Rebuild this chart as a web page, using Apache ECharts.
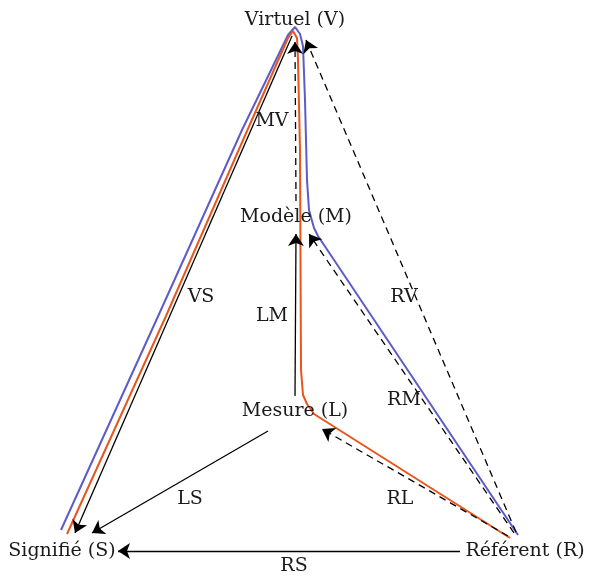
<!DOCTYPE html>
<html><head><meta charset="utf-8">
<script src="https://cdn.jsdelivr.net/npm/echarts@6/dist/echarts.min.js"></script>
<style>html,body{margin:0;padding:0;background:#fff}#c{width:589px;height:579px}</style>
</head><body><div id="c"></div>
<script>
// Node labels (name, x, y in diagram units)
const nodeNames = ['Virtuel (V)', 'Modèle (M)', 'Mesure (L)', 'Signifié (S)', 'Référent (R)'];
const nodeX = [295, 296, 295, 62, 525];
const nodeY = [20, 217, 411, 551, 551];

// Arrows: label, from, to, dashed
const edgeNames = ['VS', 'MV', 'LM', 'RM', 'RV', 'RL', 'LS', 'RS'];
const edgeFrom = [[292,36],[296,201],[295,396],[514,533],[516,532],[508,536],[268,431],[460,551]];
const edgeTo   = [[75,533],[295,42],[296,234],[309,234],[306,40],[322,429],[92,533],[118,551]];
const edgeDashed = [false, true, false, true, true, true, false, false];
const edgeLabelPos = [[201,297],[272,121],[272,316],[404,400],[404,297],[400,499],[190,499],[294,566]];

// Coloured paths
const bluePath = [[61,530],[160,312],[242,130],[288,35],[295,27],[300,34],[303,46],[305,100],[307,180],[309,210],[314,228],[318,236],[518,535]];
const orangePath = [[67,534],[166,316],[247,131],[288,38],[293,31],[297,38],[298,60],[300,150],[301,370],[303,395],[307,404],[314,414],[510,538]];

const chart = echarts.init(document.getElementById('c'));
const font = 'DejaVu Serif';
const series = [];

series.push({
  type: 'line', data: bluePath, showSymbol: false, symbol: 'none',
  lineStyle: {color: '#5c5cc8', width: 2}, z: 2, animation: false
});
series.push({
  type: 'line', data: orangePath, showSymbol: false, symbol: 'none',
  lineStyle: {color: '#e8561c', width: 2}, z: 3, animation: false
});

series.push({
  type: 'lines', coordinateSystem: 'cartesian2d', z: 4, animation: false,
  symbol: ['none', 'arrow'], symbolSize: 12,
  data: edgeNames.map((n, i) => ({
    name: n,
    coords: [edgeFrom[i], edgeTo[i]],
    lineStyle: {color: '#000', opacity: 1, width: 1.3, type: edgeDashed[i] ? [7, 5] : 'solid'}
  }))
});

const lbl = {show: true, position: 'inside', formatter: p => p.name,
  fontFamily: font, fontSize: 19, color: '#1a1a1a'};
series.push({
  type: 'scatter', symbolSize: 0, z: 5, animation: false, itemStyle: {opacity: 1},
  data: nodeNames.map((n, i) => ({name: n, value: [nodeX[i], nodeY[i]]})),
  label: lbl
});
series.push({
  type: 'scatter', symbolSize: 0, z: 5, animation: false, itemStyle: {opacity: 1},
  data: edgeNames.map((n, i) => ({name: n, value: edgeLabelPos[i]})),
  label: lbl
});

chart.setOption({
  backgroundColor: '#fff',
  animation: false,
  grid: {left: 0, right: 0, top: 0, bottom: 0},
  xAxis: {type: 'value', min: 0, max: 589, show: false},
  yAxis: {type: 'value', min: 0, max: 579, inverse: true, show: false},
  series
});
</script></body></html>
